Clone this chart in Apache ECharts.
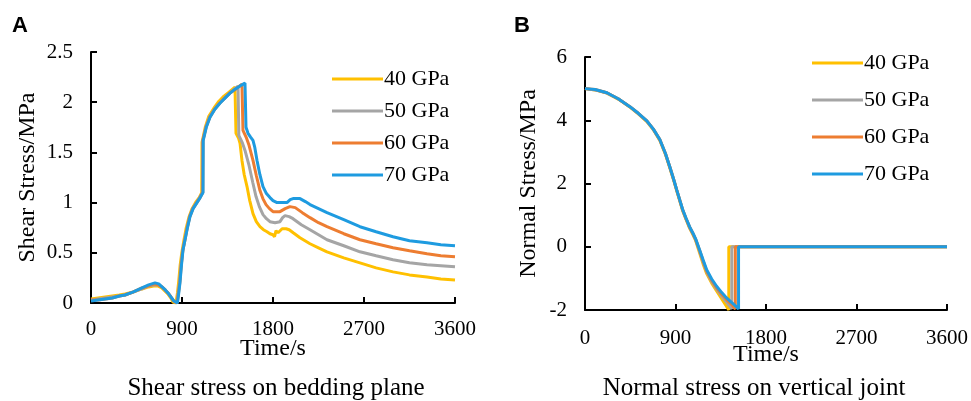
<!DOCTYPE html>
<html>
<head>
<meta charset="UTF-8">
<title>Shear and normal stress</title>
<script src="https://cdn.jsdelivr.net/npm/echarts@6/dist/echarts.min.js"></script>
<style>
  html, body { margin: 0; padding: 0; background: #fff; }
  #chart { width: 971px; height: 401px; }
</style>
</head>
<body>
<div id="chart"></div>
<script>
// legend names and colours
var moduli = ['40 GPa', '50 GPa', '60 GPa', '70 GPa'];
var colors = ['#FFC000', '#A5A5A5', '#ED7D31', '#1E9BE0'];

// A: shear stress on bedding plane, [time s, MPa]
var shear40 = [[0,0.04],[70,0.05],[140,0.06],[210,0.07],[280,0.08],[336,0.09],[420,0.11],[504,0.14],[570,0.16],[620,0.17],[660,0.17],[700,0.15],[730,0.12],[760,0.09],[790,0.05],[810,0.01],[840,0.0],[855,0.1],[868,0.22],[882,0.38],[898,0.5],[918,0.62],[940,0.74],[970,0.86],[1000,0.94],[1040,1.01],[1070,1.05],[1095,1.1],[1098,1.6],[1130,1.75],[1165,1.86],[1215,1.94],[1265,2.01],[1315,2.06],[1365,2.1],[1424,2.15],
    [1434,1.69],[1460,1.64],[1474,1.59],[1493,1.42],[1515,1.28],[1543,1.16],[1570,1.02],[1602,0.89],[1635,0.81],[1671,0.76],[1705,0.73],[1741,0.71],[1770,0.69],[1800,0.68],[1815,0.66],[1830,0.72],[1850,0.70],[1890,0.74],[1930,0.74],[1960,0.73],[2000,0.70],[2067,0.65],[2166,0.59],[2250,0.55],[2334,0.51],[2500,0.45],[2660,0.40],[2820,0.35],[2987,0.31],[3150,0.28],[3323,0.26],[3460,0.24],[3600,0.23]];
var shear50 = [[0,0.03],[70,0.04],[140,0.05],[210,0.06],[280,0.07],[336,0.08],[420,0.11],[504,0.14],[570,0.17],[628,0.18],[665,0.18],[702,0.16],[732,0.13],[761,0.1],[790,0.06],[815,0.02],[848,0.0],[862,0.1],[875,0.2],[890,0.38],[905,0.51],[925,0.62],[948,0.74],[975,0.86],[1005,0.94],[1045,1.0],[1075,1.05],[1102,1.1],[1104,1.61],[1135,1.75],[1172,1.85],[1220,1.93],[1270,1.99],[1320,2.04],[1370,2.09],[1454,2.16],
    [1462,1.67],[1495,1.60],[1523,1.52],[1563,1.37],[1600,1.2],[1632,1.06],[1665,0.96],[1701,0.88],[1735,0.84],[1770,0.81],[1820,0.80],[1869,0.81],[1895,0.85],[1919,0.87],[1960,0.86],[1998,0.84],[2080,0.78],[2166,0.73],[2250,0.68],[2334,0.63],[2500,0.57],[2660,0.51],[2820,0.47],[2987,0.43],[3150,0.40],[3323,0.38],[3460,0.37],[3600,0.36]];
var shear60 = [[0,0.03],[70,0.03],[140,0.04],[210,0.05],[280,0.07],[336,0.08],[420,0.11],[504,0.15],[570,0.17],[630,0.19],[668,0.18],[702,0.16],[734,0.13],[761,0.1],[790,0.06],[818,0.02],[852,0.0],[865,0.1],[878,0.2],[893,0.38],[908,0.52],[928,0.62],[950,0.74],[977,0.86],[1008,0.94],[1046,1.0],[1078,1.05],[1105,1.1],[1107,1.62],[1138,1.75],[1175,1.85],[1223,1.93],[1272,1.99],[1322,2.04],[1372,2.09],[1430,2.13],[1493,2.18],
    [1503,1.72],[1535,1.65],[1563,1.57],[1602,1.42],[1635,1.27],[1671,1.12],[1700,1.04],[1731,0.98],[1765,0.94],[1800,0.91],[1869,0.91],[1920,0.94],[1968,0.96],[2020,0.95],[2090,0.9],[2166,0.85],[2250,0.8],[2334,0.76],[2500,0.69],[2660,0.63],[2820,0.59],[2987,0.55],[3150,0.52],[3323,0.49],[3460,0.47],[3600,0.46]];
var shear70 = [[0,0.02],[70,0.03],[140,0.04],[210,0.05],[280,0.07],[336,0.08],[420,0.11],[504,0.15],[570,0.18],[633,0.2],[670,0.19],[702,0.16],[735,0.13],[761,0.1],[790,0.06],[820,0.02],[855,0.0],[868,0.1],[880,0.2],[895,0.38],[910,0.53],[930,0.63],[952,0.74],[979,0.86],[1010,0.94],[1048,1.0],[1080,1.05],[1108,1.1],[1110,1.62],[1140,1.75],[1177,1.85],[1225,1.93],[1275,1.99],[1325,2.04],[1375,2.09],[1425,2.13],[1470,2.16],[1523,2.19],
    [1533,1.75],[1553,1.69],[1580,1.65],[1602,1.62],[1620,1.55],[1642,1.42],[1670,1.28],[1701,1.16],[1735,1.09],[1770,1.05],[1800,1.02],[1840,1.0],[1880,1.0],[1938,1.0],[1970,1.03],[1998,1.04],[2067,1.04],[2120,1.01],[2166,0.98],[2250,0.94],[2334,0.9],[2500,0.83],[2660,0.76],[2820,0.71],[2987,0.66],[3150,0.62],[3323,0.60],[3460,0.58],[3600,0.57]];

// B: normal stress on vertical joint, [time s, MPa]
var normal40 = [[0,5.0],[100,4.96],[218,4.86],[330,4.67],[446,4.42],[530,4.2],[615,3.96],[680,3.7],[744,3.36],[800,2.92],[843,2.5],[880,2.12],[912,1.77],[945,1.42],[972,1.13],[1005,0.86],[1041,0.58],[1075,0.37],[1100,0.2],[1111,0.15],[1140,-0.2],[1175,-0.55],[1210,-0.85],[1260,-1.15],[1309,-1.4],[1360,-1.65],[1400,-1.85],[1430,-2.0],[1430,0],[3600,0]];
var normal50 = [[0,5.0],[100,4.96],[218,4.86],[330,4.68],[446,4.43],[530,4.21],[615,3.97],[680,3.71],[744,3.38],[800,2.94],[843,2.52],[880,2.14],[912,1.79],[945,1.44],[972,1.15],[1005,0.88],[1041,0.6],[1075,0.4],[1100,0.22],[1111,0.18],[1140,-0.15],[1175,-0.49],[1210,-0.8],[1260,-1.1],[1309,-1.34],[1360,-1.56],[1408,-1.75],[1460,-1.96],[1460,0],[3600,0]];
var normal60 = [[0,5.0],[100,4.97],[218,4.87],[330,4.68],[446,4.43],[530,4.22],[615,3.98],[680,3.72],[744,3.39],[800,2.95],[843,2.53],[880,2.15],[912,1.8],[945,1.45],[972,1.16],[1005,0.89],[1041,0.62],[1075,0.41],[1100,0.24],[1111,0.2],[1140,-0.12],[1175,-0.45],[1210,-0.77],[1260,-1.06],[1309,-1.3],[1360,-1.5],[1408,-1.67],[1460,-1.83],[1495,-1.97],[1495,0],[3600,0]];
var normal70 = [[0,5.0],[100,4.97],[218,4.87],[330,4.68],[446,4.43],[530,4.22],[615,3.98],[680,3.72],[744,3.39],[800,2.95],[843,2.53],[880,2.15],[912,1.80],[945,1.45],[972,1.17],[1005,0.9],[1041,0.63],[1075,0.42],[1100,0.25],[1111,0.2],[1140,-0.1],[1175,-0.42],[1210,-0.73],[1260,-1.02],[1309,-1.25],[1360,-1.45],[1408,-1.62],[1460,-1.77],[1507,-1.9],[1527,-1.97],[1527,0],[3600,0]];

var shearSets = [shear40, shear50, shear60, shear70];
var normalSets = [normal40, normal50, normal60, normal70];

var serif = '"Liberation Serif", "Times New Roman", serif';

function xAxisFor(gridIndex, labelGap, nameGap) {
    return {
        gridIndex: gridIndex,
        type: 'value',
        min: 0, max: 3600, interval: 900,
        name: 'Time/s',
        nameLocation: 'middle',
        nameGap: nameGap,
        nameMoveOverlap: false,
        nameTextStyle: { fontFamily: serif, fontSize: 24, color: '#000' },
        axisLine: { show: true, onZero: false, lineStyle: { color: '#000', width: 2 } },
        axisTick: { show: true, inside: true, length: 6, lineStyle: { color: '#000', width: 2 } },
        axisLabel: { fontFamily: serif, fontSize: 21, color: '#000', margin: labelGap, formatter: function (v) { return String(v); } },
        splitLine: { show: false }
    };
}

function yAxisFor(gridIndex, min, max, step, name, gap) {
    return {
        gridIndex: gridIndex,
        type: 'value',
        min: min, max: max, interval: step,
        name: name,
        nameLocation: 'middle',
        nameGap: gap,
        nameMoveOverlap: false,
        nameTextStyle: { fontFamily: serif, fontSize: 24, color: '#000' },
        axisLine: { show: true, onZero: false, lineStyle: { color: '#000', width: 2 } },
        axisTick: { show: true, inside: true, length: 6, lineStyle: { color: '#000', width: 2 } },
        axisLabel: { fontFamily: serif, fontSize: 21, color: '#000', margin: 18 },
        splitLine: { show: false }
    };
}

function legendFor(left, top, gap) {
    return {
        left: left, top: top,
        orient: 'vertical',
        icon: 'rect',
        itemWidth: 51, itemHeight: 3,
        itemGap: gap,
        data: moduli,
        selectedMode: false,
        textStyle: { fontFamily: serif, fontSize: 22, color: '#000', lineHeight: 22, padding: [0, 0, 0, -4] }
    };
}

var series = [];
moduli.forEach(function (name, i) {
    series.push({
        name: name, type: 'line', xAxisIndex: 0, yAxisIndex: 0,
        data: shearSets[i], symbol: 'none', z: 2 + i,
        lineStyle: { color: colors[i], width: 3 }, itemStyle: { color: colors[i] }
    });
});
moduli.forEach(function (name, i) {
    series.push({
        name: name, type: 'line', xAxisIndex: 1, yAxisIndex: 1,
        data: normalSets[i], symbol: 'none', z: 2 + i,
        lineStyle: { color: colors[i], width: 3 }, itemStyle: { color: colors[i] }
    });
});

var chart = echarts.init(document.getElementById('chart'), null, { renderer: 'canvas' });
chart.setOption({
    animation: false,
    backgroundColor: '#fff',
    grid: [
        { left: 91, top: 52, width: 364, height: 251 },
        { left: 585, top: 57, width: 363, height: 253 }
    ],
    xAxis: [xAxisFor(0, 16, 34), xAxisFor(1, 18, 33)],
    yAxis: [
        yAxisFor(0, 0, 2.5, 0.5, 'Shear Stress/MPa', 51),
        yAxisFor(1, -2, 6, 2, 'Normal Stress/MPa', 44)
    ],
    legend: [legendFor(327, 63, 10), legendFor(807, 47, 15)],
    graphic: [
        { type: 'text', left: 12, top: 15, style: { text: 'A', fontFamily: '"Liberation Sans", Arial, sans-serif', fontWeight: 'bold', fontSize: 22, fill: '#000' } },
        { type: 'text', left: 514, top: 15, style: { text: 'B', fontFamily: '"Liberation Sans", Arial, sans-serif', fontWeight: 'bold', fontSize: 22, fill: '#000' } },
        { type: 'text', x: 276, y: 388, style: { text: 'Shear stress on bedding plane', fontFamily: serif, fontSize: 25, fill: '#000', align: 'center', verticalAlign: 'middle' } },
        { type: 'text', x: 754, y: 388, style: { text: 'Normal stress on vertical joint', fontFamily: serif, fontSize: 25, fill: '#000', align: 'center', verticalAlign: 'middle' } }
    ],
    series: series
});
</script>
</body>
</html>
